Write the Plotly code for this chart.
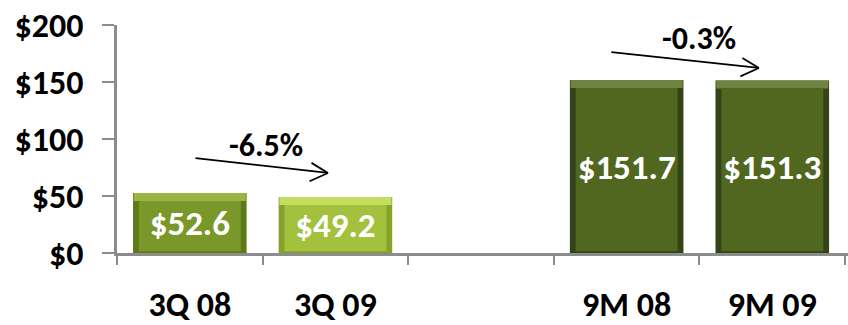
import plotly.graph_objects as go

# Revenue ($ millions) by period
categories = ["3Q 08", "3Q 09", " ", "9M 08", "9M 09"]
values = [52.6, 49.2, None, 151.7, 151.3]
value_labels = ["$52.6", "$49.2", "", "$151.7", "$151.3"]
y_ticks = [0, 50, 100, 150, 200]
y_tick_labels = ["$0", "$50", "$100", "$150", "$200"]
changes = ["-6.5%", "-0.3%"]

# bevel palette per bar: (edge, top highlight, face)
palette = [
    ("#5d7a19", "#9bb545", "#7a982a"),
    ("#86a22c", "#c3dc62", "#a3c13c"),
    ("#000000", "#000000", "#000000"),
    ("#34441a", "#6f8440", "#51671f"),
    ("#34441a", "#6f8440", "#51671f"),
]

FONT = "Carlito, Lato, sans-serif"
BAR_W = 0.78
BEVEL = 7.0      # height of the top bevel in value units
SIDE = 0.04      # side bevel in category units

vals = [v if v is not None else 0 for v in values]

fig = go.Figure()
# outer body (shows as the darker side bevel)
fig.add_trace(go.Bar(
    x=categories, y=vals, width=BAR_W,
    marker=dict(color=[p[0] for p in palette], line=dict(width=0)),
    hoverinfo="skip", showlegend=False))
# lighter top bevel
fig.add_trace(go.Bar(
    x=categories, y=[BEVEL if v else 0 for v in vals],
    base=[v - BEVEL for v in vals], width=BAR_W - 0.01,
    marker=dict(color=[p[1] for p in palette], line=dict(width=0)),
    hoverinfo="skip", showlegend=False))
# flat face
fig.add_trace(go.Bar(
    x=categories, y=[max(v - BEVEL - 1.5, 0) for v in vals],
    base=[1.5 if v else 0 for v in vals], width=BAR_W - 2 * SIDE,
    marker=dict(color=[p[2] for p in palette], line=dict(width=0)),
    hoverinfo="skip", showlegend=False))
# value labels centred on each full bar
fig.add_trace(go.Bar(
    x=categories, y=vals, width=BAR_W,
    marker=dict(color="rgba(0,0,0,0)", line=dict(width=0)),
    text=value_labels, textposition="inside", insidetextanchor="middle",
    textangle=0, constraintext="none",
    textfont=dict(family=FONT, size=35, color="white"),
    hoverinfo="skip", showlegend=False))

# growth arrows: shaft plus open chevron head
arrows = [
    dict(tip=(0.949, 70.2), tail=(-134, -15), label=changes[0], label_pos=(0.52, 93.9)),
    dict(tip=(3.908, 162.3), tail=(-149, -16), label=changes[1], label_pos=(3.5, 188.6)),
]
annotations = []
for a in arrows:
    for ax, ay in [a["tail"], (-18, -11), (-20, 9)]:
        annotations.append(dict(
            x=a["tip"][0], y=a["tip"][1], xref="x", yref="y",
            ax=ax, ay=ay, axref="pixel", ayref="pixel",
            showarrow=True, arrowhead=0, arrowwidth=1.8, arrowcolor="black",
            text=""))
    annotations.append(dict(
        x=a["label_pos"][0], y=a["label_pos"][1], xref="x", yref="y",
        text=a["label"], showarrow=False,
        font=dict(family=FONT, size=32, color="black")))

fig.update_layout(
    barmode="overlay",
    width=848, height=325,
    margin=dict(l=117, r=0, t=25, b=72, autoexpand=False),
    plot_bgcolor="white", paper_bgcolor="white",
    annotations=annotations,
    xaxis=dict(
        type="category", range=[-0.5, 4.52], automargin=False,
        showline=True, linecolor="#8c8c8c", linewidth=2.5,
        ticks="outside", tickson="boundaries", ticklen=9, tickwidth=2,
        tickcolor="#8c8c8c", ticklabelstandoff=19,
        tickfont=dict(family=FONT, size=34, color="black", weight="bold"),
        showgrid=False, zeroline=False, fixedrange=True),
    yaxis=dict(
        range=[0, 200], tickvals=y_ticks, ticktext=y_tick_labels,
        automargin=False,
        showline=True, linecolor="#8c8c8c", linewidth=2.5,
        ticks="outside", ticklen=12, tickwidth=2, tickcolor="#8c8c8c",
        ticklabelstandoff=12,
        tickfont=dict(family=FONT, size=34, color="black", weight="bold"),
        showgrid=False, zeroline=False, fixedrange=True),
    font=dict(family=FONT, color="black"),
)
fig.update_traces(textfont_weight="bold", selector=dict(type="bar"))
for ann in fig.layout.annotations:
    ann.font.weight = "bold"

fig.write_html("out.html", config={"displayModeBar": False})
